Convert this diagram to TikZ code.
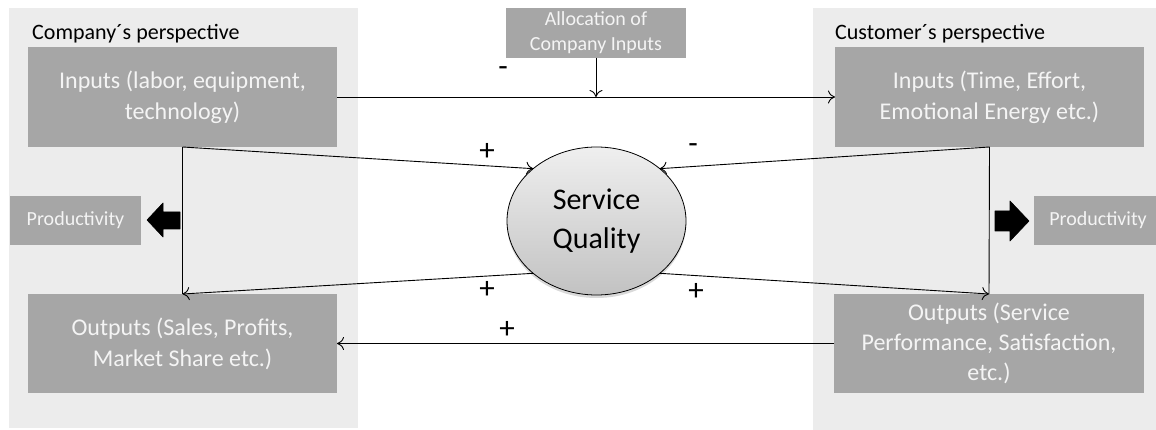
\documentclass[tikz,border=0pt]{standalone}
\usepackage{fontspec}
\setmainfont{Carlito}
\usetikzlibrary{shadows,shapes.geometric,arrows.meta}
\definecolor{panelgray}{HTML}{ECECEC}
\definecolor{boxgray}{HTML}{A6A6A6}
\definecolor{boxtext}{HTML}{F4F4F4}
\definecolor{elltop}{HTML}{EFEFEF}
\definecolor{ellbot}{HTML}{C2C2C2}
\tikzset{
  panel/.style={fill=panelgray,draw=none},
  box/.style={fill=boxgray,draw=none,text=boxtext,align=center,inner sep=0pt,outer sep=0pt,
    font=\fontsize{24}{31}\selectfont},
  smallbox/.style={box,font=\fontsize{20}{25}\selectfont},
  conn/.style={draw=black,line width=0.9pt},
  arr/.style={conn,-{To[length=7pt,width=13pt]}},
  sign/.style={inner sep=0pt,font=\fontsize{31}{32}\selectfont},
  title/.style={inner sep=0pt,anchor=west,font=\fontsize{22}{26}\selectfont},
  blockarrow/.style={fill=black,draw=black,line width=0.6pt,line join=round},
}
\begin{document}
\begin{tikzpicture}[x=1pt,y=-1pt]
\useasboundingbox (0,0) rectangle (1156,430);
% panels
\fill[panel] (9,8) rectangle (358,428);
\fill[panel] (813,8) rectangle (1170,430);
% titles
\node[title] (t1) at (32,34) {Company´s perspective};
\node[title] (t2) at (835,34) {Customer´s perspective};
% boxes
\node[box,minimum width=309,minimum height=100] (ci) at (182.5,97) {Inputs (labor, equipment,\\technology)};
\node[box,minimum width=309,minimum height=99] (co) at (182.5,343.5) {Outputs (Sales, Profits,\\Market Share etc.)};
\node[box,minimum width=309,minimum height=100] (ui) at (989.5,97) {Inputs (Time, Effort,\\Emotional Energy etc.)};
\node[box,minimum width=310,minimum height=99,font=\fontsize{24}{30}\selectfont] (uo) at (989,343.5) {Outputs (Service\\Performance, Satisfaction,\\etc.)};
\node[smallbox,minimum width=180,minimum height=50] (al) at (596,33) {Allocation of\\Company Inputs};
\node[smallbox,minimum width=131,minimum height=49] (pl) at (75.5,220.5) {Productivity};
\node[smallbox,minimum width=128,minimum height=49] (pr) at (1098,220.5) {Productivity};
% service quality
\node[ellipse,minimum width=179,minimum height=148,inner sep=0pt,outer sep=0pt,draw=black,line width=0.8pt,
  top color=elltop,bottom color=ellbot,
  drop shadow={shadow xshift=0pt,shadow yshift=-3pt,opacity=0.15,fill=black},
  align=center,font=\fontsize{30}{39}\selectfont] (sq) at (596.5,221) {Service\\Quality};
% connectors
\draw[arr] (ci.east) -- (ui.west);
\draw[arr] (al.south) -- (al.south |- ci.east);
\draw[conn] (ci.south) -- (co.north);
\draw[arr] (ci.south) -- (sq.north west);
\draw[arr] (sq.south west) -- (co.north);
\draw[conn] (ui.south) -- (uo.north);
\draw[arr] (ui.south) -- (sq.north east);
\draw[arr] (sq.south east) -- (uo.north);
\draw[arr] (uo.west) -- (co.east);
% signs
\node[sign] (s1) at (503,72) {-};
\node[sign] (s2) at (487,152) {+};
\node[sign] (s3) at (693,149) {-};
\node[sign] (s4) at (487,290) {+};
\node[sign] (s5) at (696,292) {+};
\node[sign] (s6) at (507,330) {+};
% block arrows
\fill[blockarrow] (147,220) -- (163,203) -- (163,212) -- (180,212) -- (180,229) -- (163,229) -- (163,237) -- cycle;
\fill[blockarrow] (1029,221) -- (1010,201) -- (1010,211) -- (995,211) -- (995,231) -- (1010,231) -- (1010,241) -- cycle;
\end{tikzpicture}
\end{document}
